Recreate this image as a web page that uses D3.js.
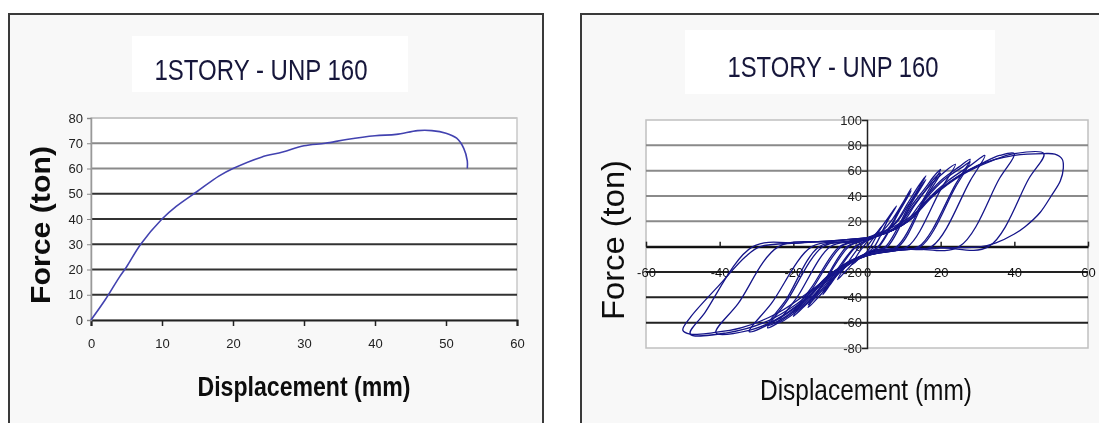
<!DOCTYPE html>
<html>
<head>
<meta charset="utf-8">
<script src="https://cdn.jsdelivr.net/npm/d3@7"></script>
<style>
  html, body { margin: 0; padding: 0; background: #ffffff; }
  svg { display: block; }
  text { font-family: "Liberation Sans", Arial, sans-serif; fill: #111; }
</style>
</head>
<body>
<svg id="chart" width="1099" height="423"></svg>
<script>
// ---- Monotonic pushover curve (left panel) ----
const pushoverDisp  = [0, 2, 4, 5, 7, 10, 12, 15, 18, 20, 24, 27, 30, 33, 36, 40, 43, 46, 48, 50, 51.5, 52.5, 53, 53];
const pushoverForce = [0, 8, 17, 21, 30, 40, 45, 51, 57, 60, 64.5, 66.5, 69, 70, 71.5, 73, 73.5, 75, 75, 74, 72, 68, 63, 60];

// ---- Cyclic test, one array of [displacement, force] per load cycle (right panel) ----
const hysteresisCycles = [
  [[0,0],[2,8],[4,16],[2.5,8],[1,0],[0,-4],[-2,-9],[-4,-14],[-2.5,-6],[-1,0],[0,4]],
  [[0,4],[3,12],[6,24],[8,32],[5.5,20],[2,0],[0,-5],[-3,-11],[-6,-20],[-8,-26],[-5.5,-14],[-2,0],[0,5]],
  [[0,5],[4,12],[7,22],[10,36],[12,46],[9,30],[3,0],[0,-5],[-4,-11],[-8,-22],[-10,-30],[-12,-38],[-9,-24],[-3,0],[0,5]],
  [[0,5],[5,12],[8,24],[10,35],[12,44],[9,29],[3.2,0],[0,-5],[-4,-11],[-8,-21],[-10,-29],[-12,-36],[-9,-22],[-3.2,0],[0,5]],
  [[0,5],[5,12],[8,20],[11,34],[14,48],[16,56],[12,36],[5,0],[2,-3],[0,-6],[-4,-12],[-8,-22],[-12,-36],[-16,-48],[-12,-30],[-5,0],[-2,4],[0,6]],
  [[0,6],[5,12],[8,19],[11,32],[14,45],[16,53],[12,34],[5.5,0],[2,-3],[0,-6],[-4,-12],[-8,-21],[-12,-34],[-16,-46],[-12,-29],[-5.5,0],[-2,4],[0,6]],
  [[0,6],[6,12],[9,19],[12,32],[16,47],[18,55],[20,61],[16,41],[8,0],[3,-3],[0,-6],[-5,-12],[-9,-22],[-13,-36],[-17,-47],[-20,-55],[-15,-34],[-7,0],[-3,4],[0,6]],
  [[0,6],[6,12],[9,18],[12,30],[16,45],[18,53],[20,58],[16,39],[8.5,0],[3,-3],[0,-6],[-5,-12],[-9,-21],[-13,-34],[-17,-45],[-20,-52],[-15,-32],[-7.5,0],[-3,4],[0,6]],
  [[0,6],[6,12],[10,20],[13,33],[17,48],[21,59],[24,65],[20,45],[11,0],[5,-2],[0,-6],[-5,-12],[-10,-23],[-14,-38],[-19,-51],[-24,-60],[-19,-40],[-10,0],[-4,4],[0,6]],
  [[0,6],[7,13],[11,21],[15,36],[20,52],[25,63],[28,69],[24,49],[14,0],[7,-2],[0,-6],[-5,-12],[-10,-22],[-15,-38],[-21,-54],[-27,-64],[-22,-44],[-12,0],[-5,4],[0,6]],
  [[0,6],[7,13],[12,22],[16,38],[21,53],[26,63],[28,67],[24,47],[14.5,0],[7,-2],[0,-6],[-5,-13],[-11,-24],[-16,-40],[-22,-55],[-27,-62],[-22,-42],[-13,0],[-5,4],[0,6]],
  [[0,6],[7,13],[12,22],[16,36],[22,52],[28,64],[32,72],[28,52],[17.5,0],[9,-2],[0,-7],[-5,-13],[-10,-22],[-16,-40],[-24,-57],[-32,-67],[-26,-45],[-15,0],[-6,4],[0,7]],
  [[0,7],[7,13],[12,22],[17,38],[24,54],[32,67],[36,72],[40,73.5],[36,54],[25,0],[12,-2],[0,-7],[-5,-13],[-10,-22],[-17,-42],[-25,-58],[-32,-66],[-41,-68],[-35,-45],[-24,0],[-10,4],[0,7]],
  [[0,7],[7,13],[12,22],[18,40],[26,57],[34,68],[40,73.5],[48,73.5],[44,54],[33,0],[20,-1],[8,-3],[0,-7],[-5,-14],[-11,-25],[-19,-45],[-28,-60],[-38,-68],[-48,-69],[-44,-52],[-31,0],[-18,3],[-8,5],[0,7]],
  [[0,7],[6,14],[12,24],[20,46],[30,64],[40,72],[48,73.5],[51,73],[53,69],[53.3,62],[52.5,52],[50,40],[47,27],[43,16],[40,10],[35,3],[31,0],[20,-1],[8,-3],[0,-7],[-6,-15],[-14,-32],[-24,-52],[-34,-64],[-42,-68],[-48,-69],[-50,-66],[-48,-56],[-40,-30],[-33,-8],[-29,0],[-18,3],[-8,5],[0,7]]
];

// ---- Axis ticks and labels ----
const leftXTicks  = [0, 10, 20, 30, 40, 50, 60];
const leftYTicks  = [0, 10, 20, 30, 40, 50, 60, 70, 80];
const rightXTicks = [-60, -40, -20, 0, 20, 40, 60];
const rightYTicks = [-80, -60, -40, -20, 0, 20, 40, 60, 80, 100];
const titleText   = "1STORY - UNP 160";
const xLabelText  = "Displacement (mm)";
const yLabelText  = "Force (ton)";

const svg = d3.select("#chart");
const plain = d => String(d);   // hyphen-minus, as printed on the axes

// soft look of the scanned figure
const defs = svg.append("defs");
defs.append("filter").attr("id", "soft")
  .append("feGaussianBlur").attr("stdDeviation", 0.45);

// outer frames of the two panels
function panel(x, y, w, h, box) {
  svg.append("rect").attr("x", x).attr("y", y).attr("width", w).attr("height", h)
    .attr("fill", "#f8f8f8").attr("stroke", "#3a3a3a").attr("stroke-width", 2);
  svg.append("rect").attr("x", box[0]).attr("y", box[1]).attr("width", box[2]).attr("height", box[3])
    .attr("fill", "#ffffff");
}
panel(9, 14, 534, 420, [132, 36, 276, 56]);
panel(581, 14, 530, 420, [685, 30, 310, 64]);

function label(g, x, y, text, size, len, opts = {}) {
  return g.append("text")
    .attr("x", 0).attr("y", 0)
    .attr("transform", `translate(${x},${y})` + (opts.rotate ? " rotate(-90)" : ""))
    .attr("text-anchor", "middle")
    .attr("font-size", size)
    .attr("font-weight", opts.bold ? "bold" : "normal")
    .attr("textLength", len)
    .attr("lengthAdjust", "spacingAndGlyphs")
    .style("fill", opts.color || "#111")
    .text(text);
}

// ================= Left panel: pushover =================
{
  const g = svg.append("g").attr("filter", "url(#soft)");
  const x = d3.scaleLinear().domain([0, 60]).range([91, 517]);
  const y = d3.scaleLinear().domain([0, 80]).range([320, 118]);

  g.append("rect").attr("x", x(0)).attr("y", y(80)).attr("width", x(60) - x(0)).attr("height", y(0) - y(80))
    .attr("fill", "#ffffff").attr("stroke", "#c8c8c8").attr("stroke-width", 1.5);

  g.selectAll("line.grid").data(leftYTicks.filter(v => v > 0)).join("line")
    .attr("x1", x(0)).attr("x2", x(60)).attr("y1", d => y(d)).attr("y2", d => y(d))
    .attr("stroke", d => d === 80 ? "#c8c8c8" : d >= 60 ? "#8a8a8a" : "#333")
    .attr("stroke-width", 2);

  const xAxis = d3.axisBottom(x).tickValues(leftXTicks).tickSize(6).tickFormat(plain);
  const gx = g.append("g").attr("transform", `translate(0,${y(0)})`).call(xAxis);
  gx.select(".domain").attr("stroke", "#222").attr("stroke-width", 2);
  gx.selectAll(".tick line").attr("stroke", "#222").attr("stroke-width", 1.5);
  gx.selectAll(".tick text").attr("font-size", 13).attr("dy", "1.45em")
    .attr("font-family", "Liberation Sans, Arial, sans-serif").style("fill", "#222");

  const yAxis = d3.axisLeft(y).tickValues(leftYTicks).tickSize(4).tickFormat(plain);
  const gy = g.append("g").attr("transform", `translate(${x(0)},0)`).call(yAxis);
  gy.select(".domain").attr("stroke", "#999").attr("stroke-width", 1.5);
  gy.selectAll(".tick line").attr("stroke", "#888");
  gy.selectAll(".tick text").attr("font-size", 13).attr("x", -8)
    .attr("font-family", "Liberation Sans, Arial, sans-serif").style("fill", "#222");

  const pts = pushoverDisp.map((d, i) => [d, pushoverForce[i]]);
  g.append("path").datum(pts)
    .attr("fill", "none").attr("stroke", "#4343b0").attr("stroke-width", 1.6)
    .attr("d", d3.line().x(d => x(d[0])).y(d => y(d[1])).curve(d3.curveCatmullRom.alpha(0.5)));

  label(g, 261, 80, titleText, 30, 213, { color: "#17173a" });
  label(g, 304, 396, xLabelText, 27, 213, { bold: true, color: "#111" });
  label(g, 50, 225, yLabelText, 27, 158, { bold: true, rotate: true, color: "#111" });
}

// ================= Right panel: cyclic hysteresis =================
{
  const g = svg.append("g").attr("filter", "url(#soft)");
  const x = d3.scaleLinear().domain([-60, 60]).range([646, 1088]);
  const y = d3.scaleLinear().domain([-80, 100]).range([348, 120]);

  g.append("rect").attr("x", x(-60)).attr("y", y(100)).attr("width", x(60) - x(-60)).attr("height", y(-80) - y(100))
    .attr("fill", "#ffffff").attr("stroke", "#c0c0c0").attr("stroke-width", 1.5);

  g.selectAll("line.grid").data(rightYTicks.filter(v => v > -80 && v < 100)).join("line")
    .attr("x1", x(-60)).attr("x2", x(60)).attr("y1", d => y(d)).attr("y2", d => y(d))
    .attr("stroke", d => d > 0 ? "#8a8a8a" : "#222")
    .attr("stroke-width", 2);

  // x axis through force = 0, labels hang one band lower
  const xAxis = d3.axisBottom(x).tickValues(rightXTicks).tickSizeInner(-5).tickSizeOuter(0).tickFormat(plain);
  const gx = g.append("g").attr("transform", `translate(0,${y(0)})`).call(xAxis);
  gx.select(".domain").attr("stroke", "#111").attr("stroke-width", 2);
  gx.selectAll(".tick line").attr("stroke", "#222").attr("stroke-width", 1.5);
  gx.selectAll(".tick text").attr("font-size", 13).attr("y", 26).attr("dy", "0.35em")
    .attr("font-family", "Liberation Sans, Arial, sans-serif").style("fill", "#111");

  const yAxis = d3.axisLeft(y).tickValues(rightYTicks).tickSize(5).tickFormat(plain);
  const gy = g.append("g").attr("transform", `translate(${x(0)},0)`).call(yAxis);
  gy.select(".domain").attr("stroke", "#222").attr("stroke-width", 1.5);
  gy.selectAll(".tick line").attr("stroke", "#222");
  gy.selectAll(".tick text").attr("font-size", 13).attr("x", -5)
    .attr("font-family", "Liberation Sans, Arial, sans-serif").style("fill", "#222");

  const line = d3.line().x(d => x(d[0])).y(d => y(d[1])).curve(d3.curveCatmullRom.alpha(0.5));
  g.selectAll("path.cycle").data(hysteresisCycles).join("path")
    .attr("class", "cycle")
    .attr("fill", "none").attr("stroke", "#141489").attr("stroke-width", 1.3)
    .attr("stroke-linejoin", "round")
    .attr("d", line);

  label(g, 833, 77, titleText, 30, 211, { color: "#17173a" });
  label(g, 866, 400, xLabelText, 29, 212, { color: "#111" });
  label(g, 624, 240, yLabelText, 31, 160, { rotate: true, color: "#111" });
}
</script>
</body>
</html>
